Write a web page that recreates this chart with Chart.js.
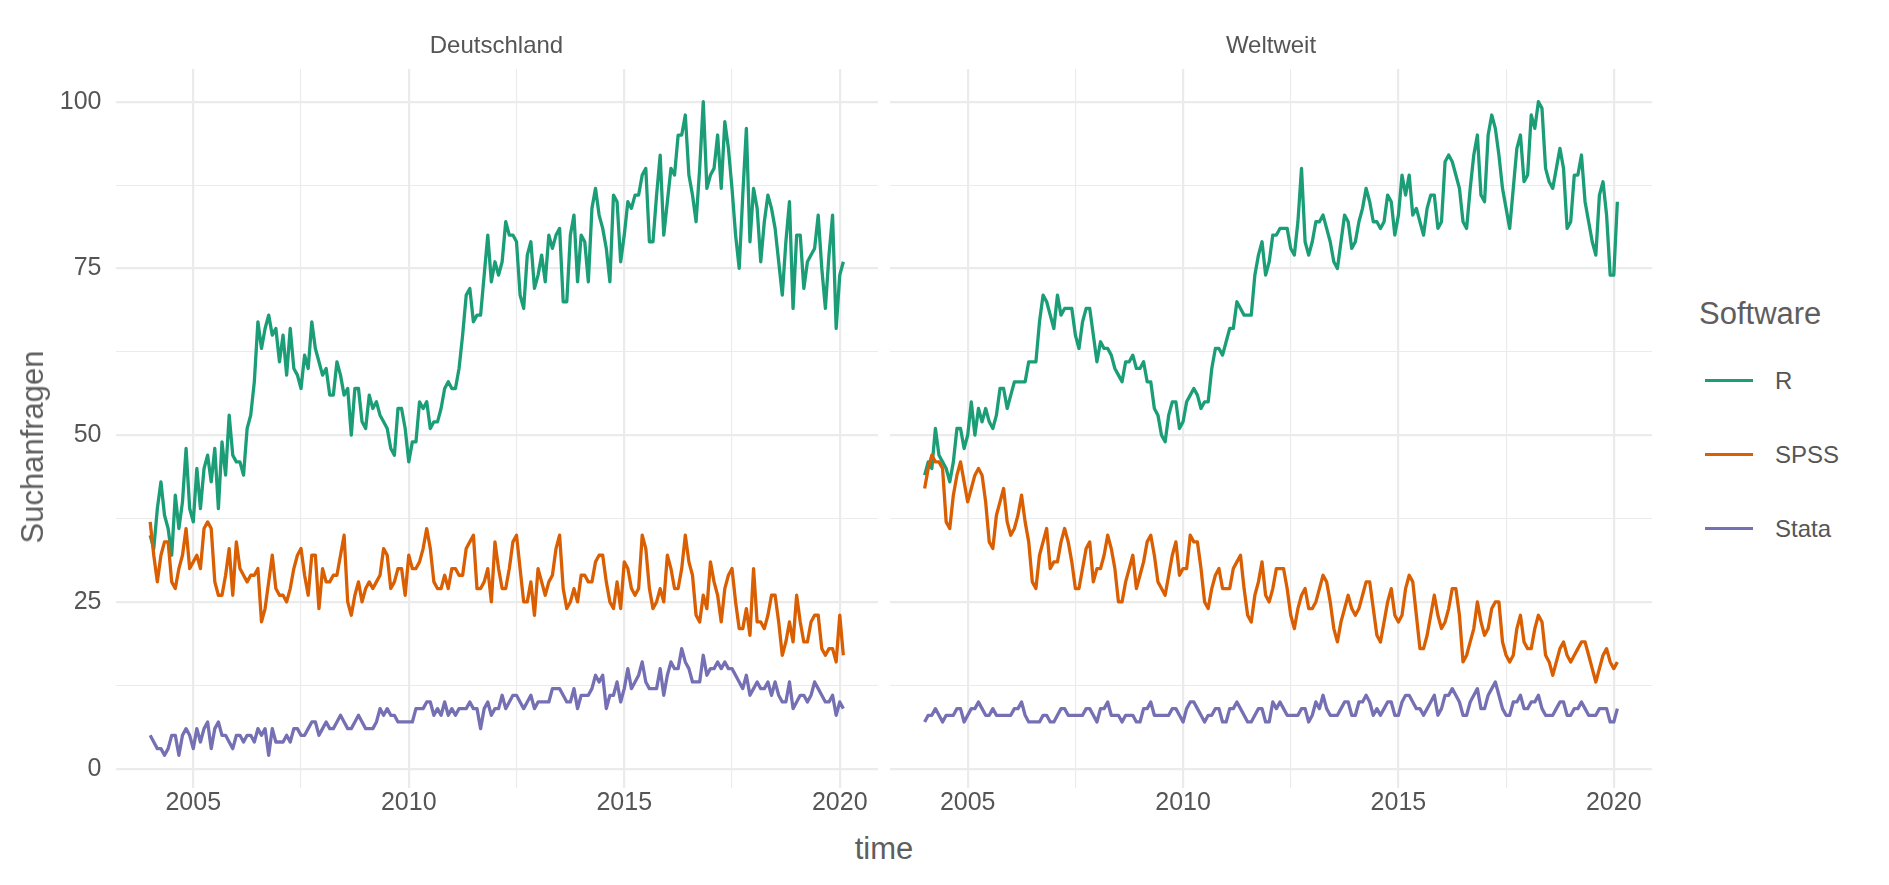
<!DOCTYPE html>
<html>
<head>
<meta charset="utf-8">
<script src="https://cdn.jsdelivr.net/npm/chart.js@4.4.1/dist/chart.umd.min.js"></script>
<style>
  body { margin: 0; background: #fff; font-family: "Liberation Sans", Arial, sans-serif; }
  #wrap { position: relative; width: 1889px; height: 885px; overflow: hidden; }
  canvas { position: absolute; top: 0; }
  .strip { position: absolute; top: 31px; height: 28px; line-height: 28px; font-size: 24px; color: #555; text-align: center; }
  .axis-title { position: absolute; font-size: 31px; color: #5E5E5E; white-space: nowrap; transform: translate(-50%, -50%); }
  #legend { position: absolute; left: 1699px; top: 292px; color: #555; }
  #legend .title { font-size: 31px; color: #5E5E5E; height: 44px; line-height: 44px; }
  #legend .item { position: relative; height: 74px; }
  #legend .key { position: absolute; left: 6px; top: 43px; width: 48px; height: 3px; }
  #legend .label { position: absolute; left: 76px; top: 30px; font-size: 24px; line-height: 30px; }
</style>
</head>
<body>
<div id="wrap">
  <canvas id="panelDE" width="890" height="830" style="left:0px"></canvas>
  <canvas id="panelWW" width="790" height="830" style="left:880px"></canvas>
  <div class="strip" style="left:115px; width:763px;">Deutschland</div>
  <div class="strip" style="left:890px; width:762px;">Weltweit</div>
  <div class="axis-title" style="left:884px; top:849px;">time</div>
  <div class="axis-title" style="left:33px; top:447px; transform: translate(-50%, -50%) rotate(-90deg);">Suchanfragen</div>
  <div id="legend"></div>
</div>
<script>
// Google Trends, monatlich ab Jan 2004
const startYear = 2004;
const software = ['R', 'SPSS', 'Stata'];
const colors = ['#1B9E77', '#D95F02', '#7570B3'];
const xTicks = [2005, 2007.5, 2010, 2012.5, 2015, 2017.5, 2020];
const yTicks = [0, 12.5, 25, 37.5, 50, 62.5, 75, 87.5, 100];

// Deutschland
const R_DE = [
  35, 33, 39, 43, 38, 36, 32, 41, 36, 40, 48, 39,
  37, 45, 39, 45, 47, 43, 48, 39, 49, 44, 53, 47,
  46, 46, 44, 51, 53, 58, 67, 63, 66, 68, 65, 66,
  61, 65, 59, 66, 60, 59, 57, 62, 60, 67, 63, 61,
  59, 60, 56, 56, 61, 59, 56, 57, 50, 57, 57, 52,
  51, 56, 54, 55, 53, 52, 51, 48, 47, 54, 54, 51,
  46, 49, 49, 55, 54, 55, 51, 52, 52, 54, 57, 58,
  57, 57, 60, 65, 71, 72, 67, 68, 68, 74, 80, 73,
  76, 74, 76, 82, 80, 80, 79, 71, 69, 77, 79, 72,
  74, 77, 73, 80, 78, 80, 81, 70, 70, 80, 83, 73,
  80, 79, 73, 84, 87, 83, 81, 78, 73, 86, 85, 76,
  80, 85, 84, 86, 86, 89, 90, 79, 79, 86, 92, 80,
  85, 90, 89, 95, 95, 98, 89, 86, 82, 90, 100, 87,
  89, 90, 95, 87, 97, 93, 87, 80, 75, 86, 96, 79,
  87, 84, 76, 82, 86, 84, 81, 76, 71, 79, 85, 69,
  80, 80, 72, 76, 77, 78, 83, 75, 69, 77, 83, 66,
  74, 76
];
const SPSS_DE = [
  37, 32, 28, 32, 34, 34, 28, 27, 30, 32, 36, 30,
  31, 32, 30, 36, 37, 36, 28, 26, 26, 29, 33, 26,
  34, 30, 29, 28, 29, 29, 30, 22, 24, 28, 32, 27,
  26, 26, 25, 27, 30, 32, 33, 29, 26, 32, 32, 24,
  30, 28, 28, 29, 29, 32, 35, 25, 23, 26, 28, 25,
  27, 28, 27, 28, 29, 33, 32, 27, 28, 30, 30, 26,
  32, 30, 30, 31, 33, 36, 33, 28, 27, 27, 29, 27,
  30, 30, 29, 29, 33, 34, 35, 27, 27, 28, 30, 25,
  34, 30, 27, 27, 30, 34, 35, 30, 25, 25, 28, 23,
  30, 28, 26, 28, 29, 33, 35, 27, 24, 25, 27, 25,
  29, 29, 28, 28, 31, 32, 32, 28, 25, 24, 28, 24,
  31, 30, 27, 26, 27, 35, 33, 27, 24, 25, 27, 25,
  32, 30, 27, 27, 30, 35, 31, 29, 23, 22, 26, 24,
  31, 28, 26, 22, 27, 29, 30, 25, 21, 21, 24, 20,
  30, 22, 22, 21, 23, 26, 26, 22, 17, 19, 22, 19,
  26, 22, 19, 19, 22, 23, 23, 18, 17, 18, 18, 16,
  23, 17
];
const Stata_DE = [
  5, 4, 3, 3, 2, 3, 5, 5, 2, 5, 6, 5,
  3, 6, 4, 6, 7, 3, 6, 7, 5, 5, 4, 3,
  5, 5, 4, 5, 5, 4, 6, 5, 6, 2, 6, 4,
  4, 4, 5, 4, 6, 6, 5, 5, 6, 7, 7, 5,
  6, 7, 6, 6, 7, 8, 7, 6, 6, 7, 8, 7,
  6, 6, 6, 7, 9, 8, 9, 8, 8, 7, 7, 7,
  7, 7, 9, 9, 9, 10, 10, 8, 9, 8, 10, 8,
  9, 8, 9, 9, 9, 10, 9, 9, 6, 9, 10, 8,
  9, 9, 11, 9, 10, 11, 11, 10, 9, 10, 11, 9,
  10, 10, 10, 10, 12, 12, 12, 11, 10, 10, 12, 9,
  11, 11, 11, 12, 14, 13, 14, 9, 11, 11, 13, 10,
  12, 15, 12, 13, 14, 16, 13, 12, 12, 12, 15, 11,
  14, 16, 15, 15, 18, 16, 15, 13, 13, 13, 17, 14,
  15, 15, 16, 15, 16, 15, 15, 14, 13, 12, 14, 11,
  12, 13, 12, 12, 13, 11, 13, 11, 10, 10, 13, 9,
  10, 11, 11, 10, 11, 13, 12, 11, 10, 10, 11, 8,
  10, 9
];

// Weltweit
const R_WW = [
  44, 46, 45, 51, 47, 46, 45, 43, 46, 51, 51, 48,
  50, 55, 50, 54, 52, 54, 52, 51, 53, 57, 57, 54,
  56, 58, 58, 58, 58, 61, 61, 61, 67, 71, 70, 68,
  66, 71, 68, 69, 69, 69, 65, 63, 67, 69, 69, 65,
  61, 64, 63, 63, 62, 60, 59, 58, 61, 61, 62, 60,
  60, 61, 58, 58, 54, 53, 50, 49, 53, 55, 55, 51,
  52, 55, 56, 57, 56, 54, 55, 55, 60, 63, 63, 62,
  64, 66, 66, 70, 69, 68, 68, 68, 74, 77, 79, 74,
  76, 80, 80, 81, 81, 81, 78, 77, 82, 90, 79, 77,
  79, 82, 82, 83, 81, 79, 76, 75, 79, 83, 82, 78,
  79, 82, 84, 87, 85, 82, 82, 81, 82, 86, 85, 80,
  83, 89, 86, 89, 83, 84, 82, 80, 84, 86, 86, 81,
  82, 91, 92, 91, 89, 87, 82, 81, 87, 92, 95, 86,
  85, 95, 98, 96, 92, 87, 84, 81, 87, 93, 95, 88,
  89, 98, 96, 100, 99, 90, 88, 87, 90, 93, 90, 81,
  82, 89, 89, 92, 85, 82, 79, 77, 86, 88, 83, 74,
  74, 85
];
const SPSS_WW = [
  42, 45, 47, 46, 46, 45, 37, 36, 41, 44, 46, 43,
  40, 42, 44, 45, 44, 40, 34, 33, 38, 40, 42, 37,
  35, 36, 38, 41, 37, 34, 28, 27, 32, 34, 36, 30,
  31, 31, 34, 36, 34, 31, 27, 27, 30, 33, 34, 28,
  30, 30, 32, 35, 33, 30, 25, 25, 28, 30, 32, 27,
  29, 31, 34, 35, 32, 28, 27, 26, 29, 32, 34, 29,
  30, 30, 35, 34, 34, 30, 25, 24, 27, 29, 30, 27,
  27, 27, 30, 31, 32, 27, 23, 22, 26, 28, 31, 26,
  25, 27, 30, 30, 30, 27, 23, 21, 24, 26, 27, 24,
  24, 25, 27, 29, 28, 25, 21, 19, 22, 24, 26, 24,
  23, 24, 26, 28, 28, 24, 20, 19, 22, 25, 27, 23,
  22, 23, 27, 29, 28, 23, 18, 18, 20, 23, 26, 23,
  21, 22, 24, 27, 27, 23, 16, 17, 19, 21, 25, 22,
  20, 21, 24, 25, 25, 19, 17, 16, 17, 21, 23, 19,
  18, 18, 21, 23, 22, 17, 16, 14, 16, 18, 19, 17,
  16, 17, 18, 19, 19, 17, 15, 13, 15, 17, 18, 16,
  15, 16
];
const Stata_WW = [
  7, 8, 8, 9, 8, 7, 8, 8, 8, 9, 9, 7,
  8, 9, 9, 10, 9, 8, 8, 9, 8, 8, 8, 8,
  8, 9, 9, 10, 8, 7, 7, 7, 7, 8, 8, 7,
  7, 8, 9, 9, 8, 8, 8, 8, 8, 9, 9, 8,
  7, 9, 9, 10, 8, 8, 8, 7, 8, 8, 8, 7,
  7, 9, 9, 10, 8, 8, 8, 8, 8, 9, 9, 8,
  7, 9, 10, 10, 9, 8, 7, 8, 8, 9, 9, 7,
  7, 9, 9, 10, 9, 8, 7, 7, 8, 9, 9, 7,
  7, 10, 9, 10, 9, 8, 8, 8, 8, 9, 9, 7,
  8, 10, 9, 11, 9, 8, 8, 8, 9, 10, 10, 8,
  8, 10, 10, 11, 10, 8, 9, 8, 9, 10, 10, 8,
  8, 10, 11, 11, 10, 9, 9, 8, 9, 10, 11, 8,
  9, 11, 11, 12, 11, 10, 8, 8, 10, 11, 12, 9,
  9, 11, 12, 13, 11, 9, 8, 8, 10, 10, 11, 9,
  9, 10, 10, 11, 9, 8, 8, 8, 9, 10, 10, 8,
  8, 9, 9, 10, 9, 8, 8, 8, 9, 9, 9, 7,
  7, 9
];

// ggplot-artige Achsenerweiterung (5 %)
const allValues = [].concat(R_DE, SPSS_DE, Stata_DE, R_WW, SPSS_WW, Stata_WW);
const xLast = startYear + (R_DE.length - 1) / 12;
const xPad = (xLast - startYear) * 0.05;
const yMin = Math.min(...allValues);
const yMax = Math.max(...allValues);
const yPad = (yMax - yMin) * 0.05;

const tickFont = { family: '"Liberation Sans", Arial, sans-serif', size: 25 };
const gridMajor = '#EBEBEB';

function toPoints(values) {
    return values.map((v, i) => ({ x: startYear + i / 12, y: v }));
}

function makePanel(canvasId, seriesList, showYLabels, padRight, yWidth) {
    new Chart(document.getElementById(canvasId), {
        type: 'line',
        data: {
            datasets: seriesList.map((values, k) => ({
                label: software[k],
                data: toPoints(values),
                borderColor: colors[k],
                borderWidth: 3.3,
                borderJoinStyle: 'round',
                pointRadius: 0,
                tension: 0,
                fill: false,
                order: seriesList.length - 1 - k
            }))
        },
        options: {
            responsive: false,
            animation: false,
            events: [],
            layout: { padding: { left: 0, right: padRight, top: 69, bottom: 0 } },
            plugins: { legend: { display: false }, tooltip: { enabled: false } },
            scales: {
                x: {
                    type: 'linear',
                    min: startYear - xPad,
                    max: xLast + xPad,
                    afterBuildTicks: s => { s.ticks = xTicks.map(v => ({ value: v })); },
                    afterFit: s => { s.height = 42; },
                    border: { display: false },
                    grid: {
                        drawTicks: false,
                        color: gridMajor,
                        lineWidth: ctx => (ctx.tick && ctx.tick.value % 5 === 0) ? 2.2 : 1.1
                    },
                    ticks: {
                        autoSkip: false,
                        maxRotation: 0,
                        padding: 0,
                        color: '#555',
                        font: tickFont,
                        callback: v => v % 5 === 0 ? String(v) : ''
                    }
                },
                y: {
                    min: yMin - yPad,
                    max: yMax + yPad,
                    afterBuildTicks: s => { s.ticks = yTicks.map(v => ({ value: v })); },
                    afterFit: s => { s.width = yWidth; },
                    border: { display: false },
                    grid: {
                        drawTicks: false,
                        color: gridMajor,
                        lineWidth: ctx => (ctx.tick && ctx.tick.value % 25 === 0) ? 2.2 : 1.1
                    },
                    ticks: {
                        autoSkip: false,
                        padding: 14,
                        color: '#555',
                        font: tickFont,
                        callback: v => (showYLabels && v % 25 === 0) ? String(v) : ''
                    }
                }
            }
        }
    });
}

makePanel('panelDE', [R_DE, SPSS_DE, Stata_DE], true, 12, 115.5);
makePanel('panelWW', [R_WW, SPSS_WW, Stata_WW], false, 18, 10);

// Legende
const legend = document.getElementById('legend');
legend.innerHTML = '<div class="title">Software</div>' + software.map((name, k) =>
    '<div class="item"><div class="key" style="background:' + colors[k] + '"></div>' +
    '<div class="label">' + name + '</div></div>').join('');
</script>
</body>
</html>
